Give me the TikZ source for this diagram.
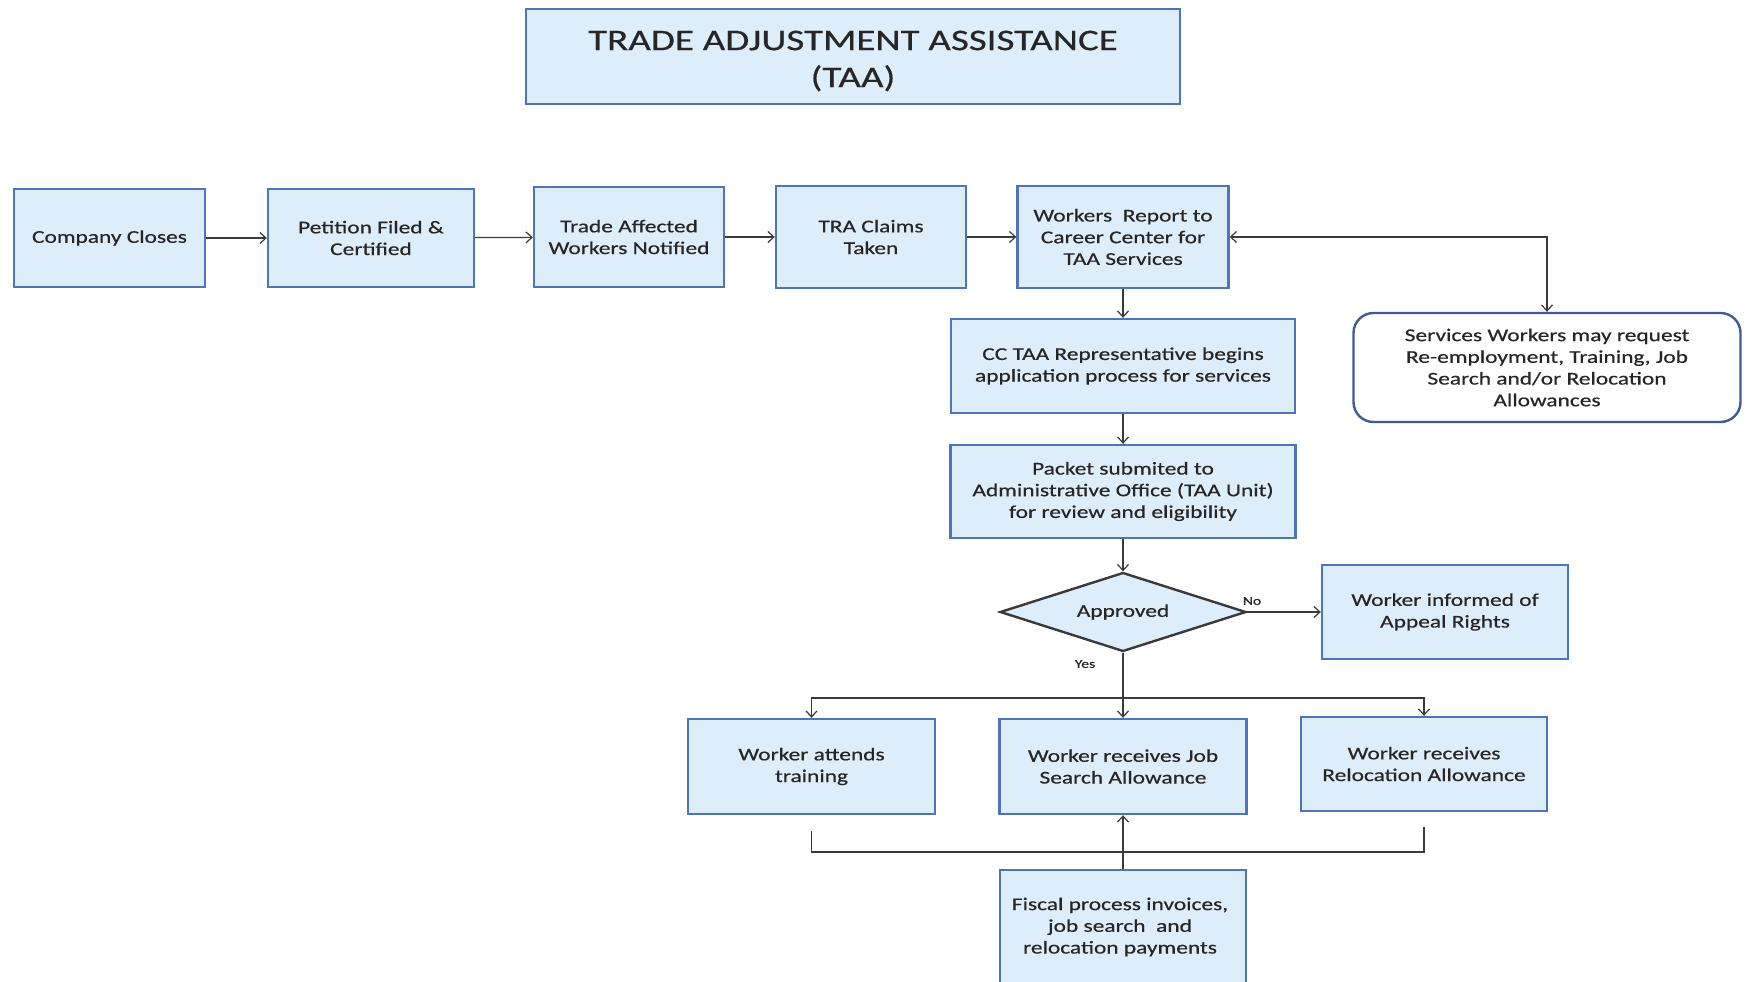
\documentclass[tikz,border=0pt]{standalone}
\usepackage{fontspec}
\setmainfont{Carlito}[FakeStretch=1.3,FakeBold=0.5]
\usetikzlibrary{shapes.geometric,arrows.meta}
\definecolor{boxfill}{HTML}{DDEDFA}
\definecolor{boxline}{HTML}{4F74B8}
\definecolor{conn}{HTML}{3A3A3A}
\definecolor{txt}{HTML}{262626}
\tikzset{
  box/.style={draw=boxline, line width=2.4pt, fill=boxfill, align=center, text=txt,
    inner sep=2pt, font=\fontsize{18}{21.7}\selectfont},
  rbox/.style={box, fill=white, rounded corners=20pt, draw=boxline!80!black},
  dia/.style={diamond, draw=conn, line width=2.4pt, fill=boxfill, aspect=3.1, inner sep=0pt,
    text=txt, font=\fontsize{18}{21.7}\selectfont},
  conn/.style={draw=conn, line width=1.2pt, -{Straight Barb[length=6pt,width=11pt]}},
  plain/.style={draw=conn, line width=1.2pt},
  lbl/.style={text=txt, font=\fontsize{12}{14}\selectfont, inner sep=0pt}
}
\begin{document}
\begin{tikzpicture}[x=1pt,y=-1pt]
\useasboundingbox (0,0) rectangle (1745,982);
\clip (0,0) rectangle (1745,982);
\fill[white] (0,0) rectangle (1745,982);
\node[box, minimum width=654pt, minimum height=95pt] (title) at (853,56.5) {};
\node[align=center, text=txt, font=\fontsize{30}{37}\selectfont] (titletext) at (853,61) {TRADE ADJUSTMENT ASSISTANCE\\(TAA)};
\node[box, minimum width=191pt, minimum height=98pt] (company) at (109.5,238) {Company Closes};
\node[box, minimum width=206pt, minimum height=98pt] (petition) at (371,238) {Petition Filed \&\\Certified};
\node[box, minimum width=190pt, minimum height=100pt] (trade) at (629,237) {Trade Affected\\Workers Notified};
\node[box, minimum width=190pt, minimum height=102pt] (tra) at (871,237) {TRA Claims\\Taken};
\node[box, minimum width=211pt, minimum height=102pt] (workers) at (1123,237) {Workers\ \ Report to\\Career Center for\\TAA Services};
\node[rbox, minimum width=387pt, minimum height=109pt] (services) at (1547,367.5) {Services Workers may request\\Re-employment, Training, Job\\Search and/or Relocation\\Allowances};
\node[box, minimum width=344pt, minimum height=94pt] (cc) at (1123,366) {CC TAA Representative begins\\application process for services};
\node[box, minimum width=345pt, minimum height=93pt] (packet) at (1123,491.5) {Packet submited to\\Administrative Office (TAA Unit)\\for review and eligibility};
\node[dia, minimum width=246pt, minimum height=79pt] (approved) at (1123,612) {Approved};
\node[box, minimum width=246pt, minimum height=94pt] (appeal) at (1445,612) {Worker informed of\\Appeal Rights};
\node[box, minimum width=247pt, minimum height=95pt] (training) at (811.5,766.5) {Worker attends\\training};
\node[box, minimum width=247pt, minimum height=95pt] (jobsearch) at (1123,766.5) {Worker receives Job\\Search Allowance};
\node[box, minimum width=246pt, minimum height=94pt] (relocation) at (1424,764) {Worker receives\\Relocation Allowance};
\node[box, minimum width=246pt, minimum height=150pt, anchor=north] (fiscal) at (1123,869) {};
\node[align=center, font=\fontsize{18}{21.7}\selectfont, text=txt] (fiscaltxt) at (1120,927) {Fiscal process invoices,\\job search\ \ and\\relocation payments};
\node[lbl] (no) at (1252,601) {No};
\node[lbl] (yes) at (1085,664) {Yes};
\coordinate (split) at (1123,698);
\coordinate (tb) at (811.5,831);
\coordinate (rb) at (1424,827);
\coordinate (bl) at (811.5,852);
\coordinate (br) at (1424,852);
% connectors
\draw[conn] (company) -- (petition);
\draw[conn] (petition) -- (trade);
\draw[conn] (trade) -- (tra);
\draw[conn] (tra) -- (workers);
\draw[conn, {Straight Barb[length=6pt,width=11pt]}-{Straight Barb[length=6pt,width=11pt]}] (workers.east) -| (services.north);
\draw[conn] (workers) -- (cc);
\draw[conn] (cc) -- (packet);
\draw[conn] (packet) -- (approved);
\draw[conn] (approved.east) -- (appeal.west);
\draw[conn] (approved.south) -- (jobsearch.north);
\draw[conn] (split) -| (training.north);
\draw[conn] (split) -| (relocation.north);
\draw[plain] (tb) -- (bl) -- (br) -- (rb);
\draw[conn] (fiscal.north) -- (jobsearch.south);
\end{tikzpicture}
\end{document}
